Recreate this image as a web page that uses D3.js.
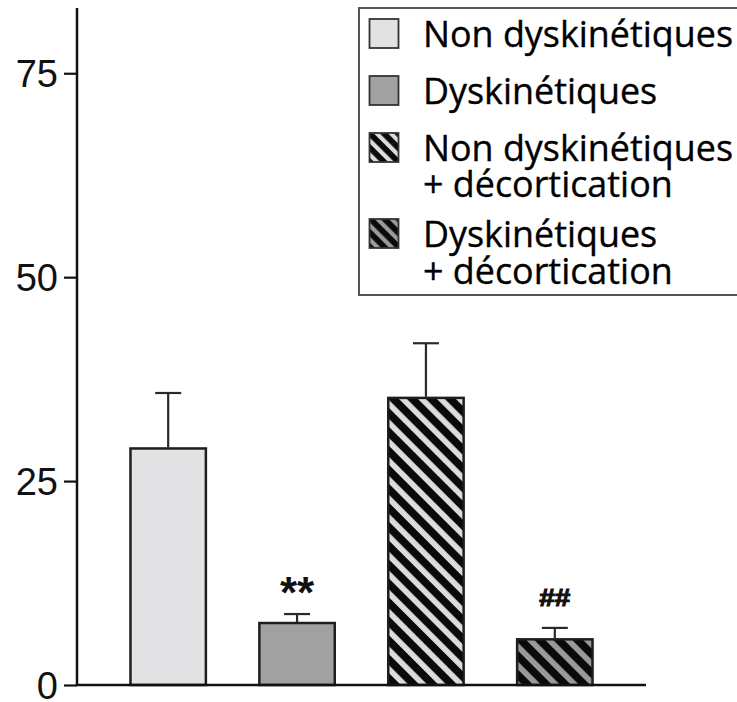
<!DOCTYPE html>
<html>
<head>
<meta charset="utf-8">
<script src="https://cdn.jsdelivr.net/npm/d3@7"></script>
<style>
  html, body { margin: 0; padding: 0; background: #fff; }
  svg { display: block; }
</style>
</head>
<body>
<svg id="chart" width="737" height="702"></svg>
<script>
// ---- data ----
const categories = ["Non dyskinétiques", "Dyskinétiques", "Non dyskinétiques + décortication", "Dyskinétiques + décortication"];
const means = [29.0, 7.6, 35.2, 5.6];
const errors = [6.8, 1.1, 6.7, 1.4];
const marks = ["", "**", "", "##"];
const yTicks = [0, 25, 50, 75];
const legendLines = [["Non dyskinétiques"], ["Dyskinétiques"], ["Non dyskinétiques", "+ décortication"], ["Dyskinétiques", "+ décortication"]];

// ---- styles ----
const fills = ["#e2e1e3", "#a1a1a1", "url(#hatchLight)", "url(#hatchDark)"];
const legendFills = ["#e2e1e3", "#a1a1a1", "url(#hatchLightS)", "url(#hatchDarkS)"];

const svg = d3.select("#chart");
const defs = svg.append("defs");
function hatch(id, stripe, period, frac) {
  const p = defs.append("pattern").attr("id", id)
    .attr("patternUnits", "userSpaceOnUse")
    .attr("width", period).attr("height", period)
    .attr("patternTransform", "rotate(-45)");
  p.append("rect").attr("width", period).attr("height", period).attr("fill", "#0a0a0a");
  p.append("rect").attr("x", 0).attr("width", period * frac).attr("height", period).attr("fill", stripe);
}
hatch("hatchLight", "#dcdcdc", 13.4, 0.42);
hatch("hatchDark", "#9a9a9a", 13.4, 0.42);
hatch("hatchLightS", "#dcdcdc", 10, 0.42);
hatch("hatchDarkS", "#9a9a9a", 10, 0.42);

const x = d3.scaleBand().domain(categories).range([77, 646]).padding(0.415);
const y = d3.scaleLinear().domain([0, 83]).range([685, 8]);

// bars
svg.append("g").selectAll("rect").data(categories).join("rect")
  .attr("x", d => x(d))
  .attr("y", (d, i) => y(means[i]))
  .attr("width", x.bandwidth())
  .attr("height", (d, i) => y(0) - y(means[i]))
  .attr("fill", (d, i) => fills[i])
  .attr("stroke", "#1e1e1e")
  .attr("stroke-width", 2.5);

// error bars (upper only)
const eg = svg.append("g").attr("stroke", "#2a2a2a").attr("stroke-width", 2.2);
categories.forEach((c, i) => {
  const cx = x(c) + x.bandwidth() / 2;
  eg.append("line").attr("x1", cx).attr("x2", cx)
    .attr("y1", y(means[i]) - 1).attr("y2", y(means[i] + errors[i]));
  eg.append("line").attr("x1", cx - 13).attr("x2", cx + 13)
    .attr("y1", y(means[i] + errors[i])).attr("y2", y(means[i] + errors[i]));
});

// significance marks
categories.forEach((c, i) => {
  if (!marks[i]) return;
  const cx = x(c) + x.bandwidth() / 2;
  const top = y(means[i] + errors[i]);
  const t = svg.append("text")
    .attr("x", cx).attr("text-anchor", "middle")
    .attr("font-family", "Liberation Sans, Arial, sans-serif")
    .attr("font-weight", "bold")
    .attr("fill", "#111")
    .text(marks[i]);
  if (marks[i] === "**") {
    t.attr("font-size", 44).attr("y", top - 6);
  } else {
    t.attr("font-size", 24).attr("y", top - 22)
      .attr("stroke", "#111").attr("stroke-width", 1.1)
      .attr("textLength", 31).attr("lengthAdjust", "spacingAndGlyphs");
  }
});

// axes
const yAxis = svg.append("g").attr("transform", "translate(77,0)")
  .call(d3.axisLeft(y).tickValues(yTicks).tickSize(13).tickPadding(6).tickFormat(d3.format("d")));
yAxis.select(".domain").attr("d", `M0,${y(83)}V${y(0)}`).attr("stroke", "#111").attr("stroke-width", 2.5);
yAxis.selectAll(".tick line").attr("stroke", "#111").attr("stroke-width", 2.2);
yAxis.selectAll(".tick text")
  .attr("font-family", "Liberation Sans, Arial, sans-serif")
  .attr("font-size", 38).attr("fill", "#111").attr("dy", "0.36em");

svg.append("line").attr("x1", 77).attr("x2", 646).attr("y1", y(0)).attr("y2", y(0))
  .attr("stroke", "#111").attr("stroke-width", 2.5);

// legend
const lg = svg.append("g");
lg.append("rect").attr("x", 359).attr("y", 8).attr("width", 420).attr("height", 287)
  .attr("fill", "#fff").attr("stroke", "#555").attr("stroke-width", 2);
const swY = [19, 76, 133, 219];
const baselines = [[47], [104], [161, 197], [247, 284]];
const lfont = "Open Sans, Noto Sans, sans-serif";
const probe = lg.append("text").attr("font-family", lfont).attr("font-size", 36).text("Non dyskinétiques");
const natW = probe.node().getComputedTextLength();
probe.remove();
const k = 310 / natW;
legendLines.forEach((lines, i) => {
  lg.append("rect").attr("x", 369.5).attr("y", swY[i]).attr("width", 29).attr("height", 29)
    .attr("fill", legendFills[i]).attr("stroke", "#333").attr("stroke-width", 1.8);
  lines.forEach((ln, j) => {
    const t = lg.append("text").attr("x", 423).attr("y", baselines[i][j])
      .attr("font-family", lfont).attr("font-size", 36).attr("fill", "#000")
      .attr("stroke", "#000").attr("stroke-width", 0.35).text(ln);
    const w = t.node().getComputedTextLength();
    t.attr("textLength", w * k).attr("lengthAdjust", "spacingAndGlyphs");
  });
});
</script>
</body>
</html>
